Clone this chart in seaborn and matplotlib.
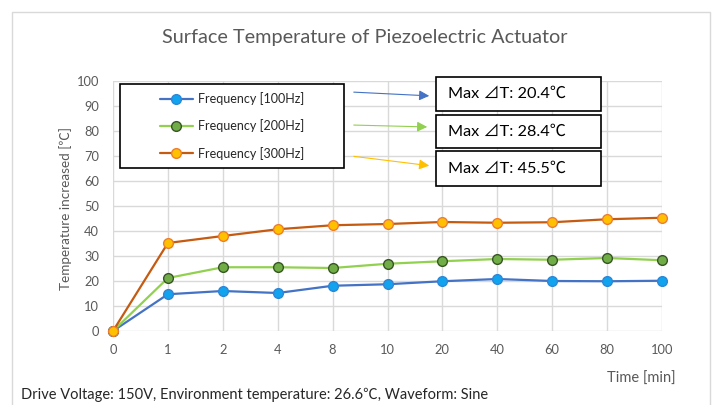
import matplotlib
matplotlib.use("Agg")
import matplotlib.pyplot as plt
import seaborn as sns
import numpy as np
from matplotlib.patches import Rectangle, FancyArrowPatch
from matplotlib.lines import Line2D

# data
times = ["0", "1", "2", "4", "8", "10", "20", "40", "60", "80", "100"]
temp_100hz = [0, 14.7, 16.0, 15.2, 18.1, 18.7, 19.9, 20.8, 20.0, 19.9, 20.1]
temp_200hz = [0, 21.2, 25.5, 25.5, 25.2, 26.9, 27.9, 28.8, 28.5, 29.2, 28.3]
temp_300hz = [0, 35.2, 38.0, 40.7, 42.3, 42.8, 43.6, 43.3, 43.5, 44.7, 45.3]
labels = ["Frequency [100Hz]", "Frequency [200Hz]", "Frequency [300Hz]"]
max_texts = ["Max ⊿T: 20.4℃", "Max ⊿T: 28.4℃", "Max ⊿T: 45.5℃"]

sns.set_style("white")
fonts = ["Lato", "Noto Sans CJK JP", "DejaVu Sans"]
plt.rcParams["font.family"] = fonts

W, H = 713, 405
fig = plt.figure(figsize=(W / 100, H / 100), dpi=100)

def fx(px):
    return px / W

def fy(py):
    return 1 - py / H

# outer chart frame
fig.patches.append(Rectangle((fx(12), fy(420)), fx(710) - fx(12), fy(12) - fy(420),
                             transform=fig.transFigure, fill=False,
                             edgecolor="#D9D9D9", linewidth=1))

ax = fig.add_axes([fx(113), fy(331), fx(662) - fx(113), fy(81) - fy(331)])

pos = np.arange(len(times))
styles = [
    (temp_100hz, "#4472C4", "#12A3EE", "#2E86D6"),
    (temp_200hz, "#92D050", "#70AD47", "#375623"),
    (temp_300hz, "#C55A11", "#FFC000", "#ED7D31"),
]
for vals, lc, mfc, mec in styles:
    sns.lineplot(x=pos, y=vals, ax=ax, color=lc, linewidth=1.6, marker="o",
                 markersize=7, markerfacecolor=mfc, markeredgecolor=mec,
                 markeredgewidth=1.0, zorder=3, clip_on=False)

ax.set_xlim(0, 10)
ax.set_ylim(0, 100)
ax.set_xticks(pos)
ax.set_xticklabels(times)
ax.set_yticks(np.arange(0, 101, 10))
ax.grid(True, color="#D9D9D9", linewidth=1)
for s in ax.spines.values():
    s.set_visible(False)
ax.tick_params(axis="both", length=0, colors="#595959", labelsize=9.3)
ax.tick_params(axis="x", pad=9)
ax.tick_params(axis="y", pad=10)
ax.set_xlabel("")
ax.set_ylabel("")

fig.text(fx(66), fy(208), "Temperature increased [℃]", rotation=90, ha="center",
         va="center", fontsize=9.7, color="#595959")
fig.text(fx(641), fy(379), "Time [min]", ha="center", va="center",
         fontsize=10.5, color="#595959")
fig.text(fx(365), fy(37), "Surface Temperature of Piezoelectric Actuator",
         ha="center", va="center", fontsize=14.3, color="#595959")
fig.text(fx(21), fy(395), "Drive Voltage: 150V, Environment temperature: 26.6℃, Waveform: Sine",
         ha="left", va="center", fontsize=10.5, color="#262626")

# legend box
fig.patches.append(Rectangle((fx(120), fy(168)), fx(344) - fx(120), fy(84) - fy(168),
                             transform=fig.transFigure, fill=True, facecolor="white",
                             edgecolor="black", linewidth=1.2, zorder=5))
handles = [Line2D([], [], color=lc, linewidth=1.6, marker="o", markersize=7,
                  markerfacecolor=mfc, markeredgecolor=mec)
           for _, lc, mfc, mec in styles]
leg = fig.legend(handles, labels, loc="center", bbox_to_anchor=(fx(232), fy(126)),
                 bbox_transform=fig.transFigure, frameon=False, fontsize=9,
                 labelspacing=1.15, handlelength=2.6, handletextpad=0.4)
leg.set_zorder(6)

# annotation boxes with arrows
boxes = [(77, 111), (115, 148), (151, 186)]
arrows = [((351, 92), (432, 96), "#4472C4"),
          ((351, 125), (430, 127), "#92D050"),
          ((351, 156), (432, 166), "#FFC000")]
for (top, bot), txt in zip(boxes, max_texts):
    fig.patches.append(Rectangle((fx(436), fy(bot)), fx(601) - fx(436), fy(top) - fy(bot),
                                 transform=fig.transFigure, facecolor="white",
                                 edgecolor="black", linewidth=1.2, zorder=5))
    fig.text(fx(448), fy((top + bot) / 2), txt, ha="left", va="center",
             fontsize=11.7, color="black", zorder=6, family=fonts)
for (x0, y0), (x1, y1), c in arrows:
    fig.add_artist(FancyArrowPatch(
        (fx(x0), fy(y0)), (fx(x1), fy(y1)), transform=fig.transFigure,
        arrowstyle="-|>,head_length=6,head_width=3", color=c, linewidth=0.8,
        mutation_scale=1, zorder=6))

fig.savefig("out.png", dpi=100)
